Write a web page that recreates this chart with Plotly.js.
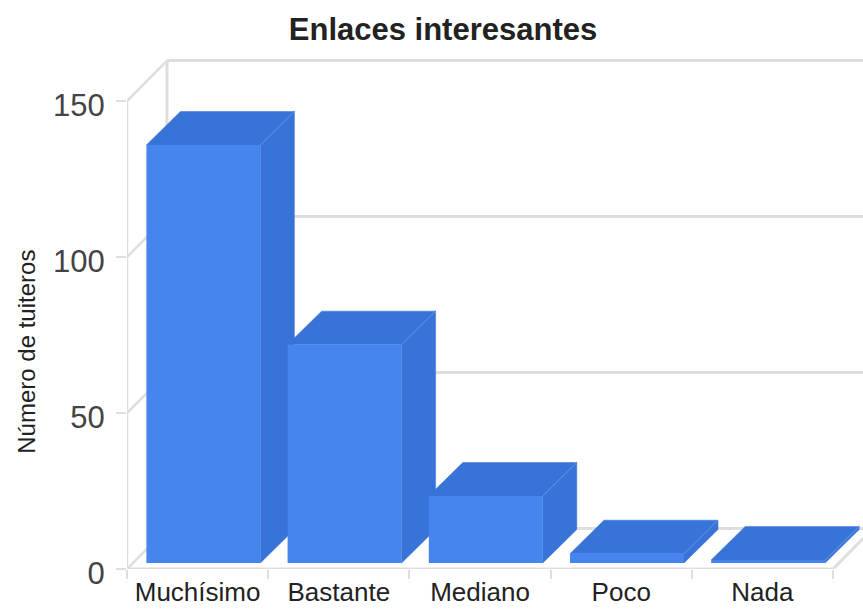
<!DOCTYPE html>
<html><head><meta charset="utf-8">
<script src="https://cdn.plot.ly/plotly-3.0.1.min.js"></script>
<style>html,body{margin:0;padding:0;background:#fff}</style></head>
<body><div id="chart" style="width:863px;height:610px"></div>
<script>
const categories = ["Muchísimo","Bastante","Mediano","Poco","Nada"];
const tuiteros = [134,70,21.5,3,1];
const gridValues = [0,50,100,150];
const chartTitle = "Enlaces interesantes";
const yTitle = "Número de tuiteros";

// plot scale helpers (pixels per unit) used only for perspective depth
const W=863,H=610,L=127,T=50,B=569.5;
const pxX=141.2, pxY=3.123;
const xr=[-0.5,-0.5+(W-L)/pxX], yr=[0,(B-T)/pxY];
const wallDx=40/pxX, wallDy=40.5/pxY;
const barDx=34/pxX, barDy=33.5/pxY;
const barW=114/pxX, barShift=5.8/pxX, barBase=6/pxY;
const idx=categories.map((_,i)=>i);
const GRID="#dedede";

// walls and floor
const gx=[],gy=[],dx=[],dy=[];
gridValues.forEach(v=>{
  dx.push(-0.5,-0.5+wallDx,null); dy.push(v,v+wallDy,null);
  gx.push(-0.5+wallDx,xr[1],null); gy.push(v+wallDy,v+wallDy,null);
});
const wall={x:[-0.5+wallDx,-0.5+wallDx],y:[wallDy,150+wallDy],mode:"lines",line:{color:GRID,width:3},hoverinfo:"skip",cliponaxis:false};
const back={x:gx,y:gy,mode:"lines",line:{color:GRID,width:3},hoverinfo:"skip",cliponaxis:false};
const diag={x:dx,y:dy,mode:"lines",line:{color:GRID,width:2.5},hoverinfo:"skip",cliponaxis:false};
const front={x:[-0.5,4.5,4.5+wallDx],y:[0,0,wallDy],mode:"lines",line:{color:GRID,width:3},hoverinfo:"skip",cliponaxis:false};

// side and top faces built from the values
const sx=[],sy=[],tx=[],ty=[],ex=[],ey=[];
tuiteros.forEach((v,i)=>{
  const l=i+barShift-barW/2, r=i+barShift+barW/2, b=barBase, t=barBase+v;
  sx.push(r,r+barDx,r+barDx,r,r,null); sy.push(b,b+barDy,t+barDy,t,b,null);
  tx.push(l,l+barDx,r+barDx,r,l,null); ty.push(t,t+barDy,t+barDy,t,t,null);
  ex.push(r,r+barDx,null); ey.push(t,t+barDy,null);
});
const DARK="#3873d8";
const side={x:sx,y:sy,mode:"lines",fill:"toself",fillcolor:DARK,line:{color:DARK,width:0.5},hoverinfo:"skip"};
const top_={x:tx,y:ty,mode:"lines",fill:"toself",fillcolor:DARK,line:{color:DARK,width:0.5},hoverinfo:"skip"};
const edge={x:ex,y:ey,mode:"lines",line:{color:"#5f93e8",width:1},hoverinfo:"skip"};

const bars={type:"bar",x:idx.map(i=>i+barShift),y:tuiteros,base:barBase,width:barW,
  marker:{color:"#4684ee",line:{width:0}},xaxis:"x2",yaxis:"y2",text:categories,hoverinfo:"text+y",textposition:"none"};

const layout={
  width:W,height:H,showlegend:false,paper_bgcolor:"#fff",plot_bgcolor:"#fff",
  margin:{l:L,r:0,t:T,b:H-B,pad:0},
  font:{family:"Liberation Sans, Arial, sans-serif",color:"#333"},
  title:{text:chartTitle,font:{size:31,color:"#222",family:"Liberation Sans, Arial, sans-serif",weight:"bold"},x:443/W,xanchor:"center",y:1-29/H,yanchor:"middle"},
  xaxis:{range:xr,tickmode:"array",tickvals:idx,ticktext:categories,ticks:"",showgrid:false,zeroline:false,showline:false,
    tickfont:{size:26,color:"#222"},ticklabelstandoff:5,
    minor:{tickmode:"array",tickvals:[-0.5,0.5,1.5,2.5,3.5,4.5],ticks:"outside",ticklen:9,tickwidth:2,tickcolor:GRID,showgrid:false}},
  yaxis:{range:yr,tickmode:"array",tickvals:gridValues,ticktext:gridValues.map(String),ticks:"outside",ticklen:10,tickwidth:2,tickcolor:GRID,
    showgrid:false,zeroline:false,showline:false,tickfont:{size:31,color:"#444"},ticklabelstandoff:5,ticklabelshift:4},
  xaxis2:{range:xr,overlaying:"x",visible:false,fixedrange:true},
  yaxis2:{range:yr,overlaying:"y",visible:false,fixedrange:true},
  annotations:[{text:yTitle,xref:"paper",yref:"paper",x:(27-L)/(W-L),y:(B-352)/(B-T),xanchor:"center",yanchor:"middle",showarrow:false,textangle:-90,font:{size:24,color:"#222"}}]
};
const leftFront={x:[-0.5,-0.5],y:[0,150],mode:"lines",line:{color:GRID,width:2.5},hoverinfo:"skip",cliponaxis:false};
Plotly.newPlot("chart",[wall,back,diag,leftFront,front,side,top_,edge,bars],layout,{displayModeBar:false});
</script></body></html>
